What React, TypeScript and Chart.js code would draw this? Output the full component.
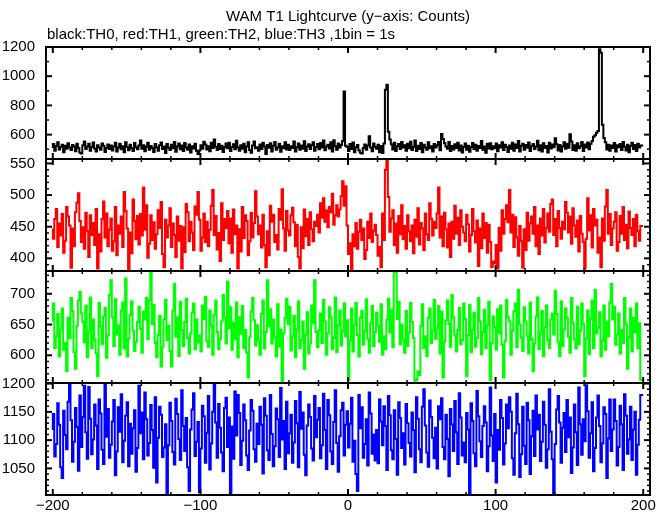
import React, { useEffect, useRef } from "react";
import { Chart, registerables } from "chart.js";

Chart.register(...registerables);

const TITLE = "WAM T1 Lightcurve (y\u2212axis: Counts)";
const SUBTITLE = "black:TH0, red:TH1, green:TH2, blue:TH3 ,1bin = 1s";

const BIN_START = -200;
const BIN_WIDTH = 1;

const X_TICKS = [-200, -100, 0, 100, 200];
const TH0_TICKS = [600, 800, 1000, 1200];
const TH1_TICKS = [400, 450, 500, 550];
const TH2_TICKS = [600, 650, 700];
const TH3_TICKS = [1050, 1100, 1150, 1200];

const TH0 = [
  508,535,489,522,547,498,516,531,480,524,503,541,512,494,529,518,486,537,509,476,
  470,527,553,501,519,538,490,515,546,505,484,528,512,497,540,523,481,509,533,502,
  526,492,518,545,484,511,537,499,521,479,548,515,493,530,507,488,542,514,500,525,
  560,503,528,486,517,544,496,522,508,481,535,513,490,527,546,502,519,474,536,510,
  495,531,507,549,483,518,539,500,526,488,543,511,497,532,477,521,505,538,489,468,
  492,527,504,551,533,498,520,486,545,509,566,517,494,536,502,524,481,513,540,506,
  545,487,516,534,499,558,511,490,528,503,537,480,519,547,495,476,525,552,507,514,
  489,532,501,544,518,467,529,510,541,485,523,550,496,512,538,483,520,506,547,498,
  530,494,521,508,552,485,513,539,497,526,504,555,488,519,534,501,527,548,490,515,
  536,499,542,511,560,493,518,531,505,547,484,562,520,497,540,512,529,556,895,524,
  517,488,535,502,546,480,514,529,493,476,470,508,533,497,525,588,511,486,539,515,
  503,531,479,522,474,540,907,941,620,566,534,498,545,487,520,536,501,549,512,527,
  490,538,506,551,495,517,559,488,524,502,543,479,530,512,496,548,507,521,485,536,
  511,528,549,493,605,570,541,519,503,550,487,522,498,534,509,545,492,526,478,515,
  539,497,524,482,516,543,501,531,489,522,508,556,496,518,475,537,505,541,499,521,
  506,540,486,527,512,548,494,530,516,481,526,503,544,490,532,509,557,484,523,538,
  497,529,510,546,487,520,535,501,518,558,493,527,485,541,508,522,478,545,505,532,
  513,575,534,492,529,485,519,548,503,537,510,602,552,495,528,489,541,506,520,550,
  487,533,511,546,500,538,556,585,596,612,625,1184,1160,668,576,548,498,530,489,525,
  508,542,484,527,513,536,495,549,517,491,531,480,522,545,501,529,488,537,512,526,
];

const TH1 = [
  447,431,462,478,418,455,436,470,409,428,481,466,452,385,447,419,473,488,503,459,
  426,449,415,472,443,402,468,437,456,421,478,384,438,411,462,490,433,471,419,445,
  463,412,427,481,405,452,439,466,418,505,475,447,383,441,408,493,459,430,467,422,
  470,436,512,445,484,401,423,468,429,457,415,438,476,448,489,407,386,461,433,452,
  479,418,455,437,402,466,428,451,384,449,410,486,473,427,458,441,413,482,469,505,
  461,412,433,471,426,458,419,445,483,508,437,467,414,440,396,487,429,462,448,475,
  424,463,409,477,438,452,384,446,411,481,432,468,459,405,427,472,433,456,506,466,
  438,452,417,469,421,386,443,405,483,458,469,426,437,414,478,461,509,447,412,475,
  444,436,468,480,457,419,453,402,384,449,416,477,435,462,421,473,446,427,458,451,
  469,441,487,464,495,458,476,449,481,473,502,453,468,484,466,477,498,522,483,514,
  452,407,424,383,438,419,456,415,442,461,429,447,399,413,458,432,471,426,444,453,
  437,404,418,386,471,429,540,557,497,442,463,476,421,455,409,467,438,484,430,451,
  415,468,443,427,452,408,461,434,479,422,456,447,413,471,438,429,487,462,436,458,
  448,471,512,433,466,419,472,446,417,455,402,458,431,483,439,464,421,476,450,441,
  427,469,454,411,437,478,443,425,460,388,447,416,471,432,456,409,453,426,386,395,
  392,421,384,448,412,476,439,462,484,457,508,441,469,418,465,433,404,451,427,385,
  446,413,472,428,455,466,439,481,419,452,407,463,436,478,425,448,471,442,486,493,
  437,462,419,475,448,431,458,446,489,472,441,466,423,479,452,434,460,411,467,439,
  426,384,431,495,444,468,417,478,452,461,409,433,386,463,428,482,508,439,470,421,
  447,458,473,412,426,467,439,481,429,453,416,474,448,437,462,419,469,443,428,451,
];

const TH2 = [
  655,684,612,631,667,598,642,676,609,620,574,661,628,693,672,605,578,648,689,703,
  668,654,621,681,597,639,694,612,658,626,603,566,685,647,618,663,677,596,632,698,
  722,662,615,691,634,649,601,673,686,611,725,598,627,665,688,640,607,622,654,679,
  643,604,671,658,693,626,690,737,651,682,620,597,633,664,582,614,659,690,625,648,
  607,582,673,716,630,662,599,687,641,615,654,692,628,603,636,669,684,610,658,621,
  632,606,681,659,695,623,614,673,648,601,666,689,638,610,627,655,698,661,619,720,
  644,678,609,653,626,686,597,662,635,680,612,641,604,564,629,671,693,657,616,649,
  624,601,667,689,611,638,722,647,675,619,658,630,598,683,614,642,556,636,661,692,
  651,679,608,630,664,597,642,688,612,625,655,578,634,670,603,619,681,652,722,638,
  613,641,668,620,690,655,601,636,678,662,610,628,694,605,649,673,616,639,684,631,
  657,560,624,676,606,649,685,633,598,661,672,617,640,691,627,604,653,680,615,638,
  669,648,622,683,601,631,610,658,692,637,674,613,737,735,659,687,618,650,626,604,
  672,615,637,685,654,628,555,560,574,568,648,683,612,631,599,661,676,620,640,690,
  627,645,680,603,671,564,623,657,689,651,614,698,662,632,606,641,677,618,625,684,
  659,566,633,682,605,641,669,614,628,693,655,602,638,674,612,649,687,560,620,663,
  646,609,675,636,681,617,564,623,690,662,655,601,640,671,684,613,706,650,629,607,
  678,655,632,603,686,627,574,619,663,694,610,637,672,599,646,681,625,612,658,668,
  634,705,667,621,599,688,615,642,676,661,630,604,693,652,626,611,679,618,640,684,
  651,566,627,673,602,660,689,612,706,636,645,670,598,624,681,609,655,631,686,716,
  658,679,617,634,668,603,641,620,693,650,578,629,676,606,661,637,684,612,652,560,
];

const TH3 = [
  1118,1146,1071,1093,1165,1127,1052,1033,1152,1109,1084,1168,1198,1135,1062,1097,1157,1123,1046,1179,
  1088,1141,1196,1114,1067,1194,1138,1075,1101,1163,1126,1049,1172,1147,1083,1058,1199,1106,1155,1069,
  1092,1133,1171,1038,1080,1158,1115,1181,1061,1099,1143,1167,1054,1129,1076,1121,1153,1044,1086,1196,
  1112,1149,1066,1184,1137,1073,1095,1162,1118,1051,1176,1025,1104,1159,1145,1070,1087,1128,1003,1091,
  1166,1134,1079,1057,1173,1146,1102,1065,1188,1125,1081,1139,1052,1010,1119,1154,1183,1072,1097,1132,
  1008,1085,1161,1142,1060,1113,1178,1048,1094,1150,1198,1131,1069,1164,1122,1078,1045,1157,1175,1088,
  1140,1003,1124,1067,1186,1108,1180,1148,1056,1099,1163,1135,1073,1047,1117,1171,1152,1084,1062,1129,
  1093,1159,1127,1041,1174,1143,1082,1065,1180,1111,1054,1089,1156,1137,1070,1192,1101,1134,1049,1168,
  1077,1112,1145,1060,1096,1169,1130,1052,1185,1120,1149,1074,1038,1126,1163,1141,1085,1064,1178,1105,
  1136,1157,1068,1091,1182,1118,1049,1171,1144,1080,1058,1132,1188,1095,1044,1107,1153,1166,1073,1127,
  1151,1087,1129,1175,1062,1099,1040,1010,1180,1121,1158,1069,1093,1137,1055,1184,1147,1076,1110,1064,
  1118,1059,1172,1133,1091,1160,1125,1047,1178,1144,1082,1066,1153,1102,1039,1167,1139,1086,1112,1057,
  1164,1130,1095,1071,1149,1118,1043,1176,1138,1084,1061,1159,1190,1126,1078,1053,1170,1141,1104,1068,
  1122,1050,1160,1137,1174,1088,1066,1145,1102,1036,1155,1128,1081,1169,1114,1058,1183,1140,1073,1096,
  1061,1148,1119,1003,1165,1134,1077,1054,1187,1142,1098,1070,1125,1160,1131,1045,1089,1193,1108,1063,
  1146,1025,1118,1083,1171,1139,1057,1094,1163,1121,1176,1150,1068,1039,1112,1182,1128,1035,1075,1159,
  1090,1058,1166,1135,1040,1107,1152,1072,1179,1119,1145,1063,1097,1168,1127,1051,1084,1190,1115,1066,
  1003,1093,1154,1178,1131,1060,1122,1148,1079,1171,1105,1140,1042,1087,1163,1114,1056,1193,1128,1074,
  1137,1098,1197,1151,1069,1112,1167,1045,1086,1140,1179,1125,1061,1094,1158,1146,1033,1103,1172,1081,
  1119,1172,1134,1055,1088,1161,1128,1047,1181,1143,1076,1101,1159,1065,1119,1150,1039,1092,1136,1180,
];

const X_MIN = -204.6;
const X_MAX = 204.6;
const X_MINOR = 20;

const PANELS = [
  { id: "y0", label: "TH0", data: TH0, color: "#000000", min: 433, max: 1200, ticks: TH0_TICKS, minor: 100, weight: 4 },
  { id: "y1", label: "TH1", data: TH1, color: "#ff0000", min: 380, max: 557, ticks: TH1_TICKS, minor: 10, weight: 3 },
  { id: "y2", label: "TH2", data: TH2, color: "#00ff00", min: 555, max: 737, ticks: TH2_TICKS, minor: 10, weight: 2 },
  { id: "y3", label: "TH3", data: TH3, color: "#0000ff", min: 1003, max: 1201, ticks: TH3_TICKS, minor: 10, weight: 1 },
];

const FONT = "'Liberation Sans', Arial, Helvetica, sans-serif";

function toSteps(values: number[]) {
  const pts = values.map((v, i) => ({ x: BIN_START + i * BIN_WIDTH, y: v }));
  // closing edge of the last bin
  pts.push({ x: BIN_START + values.length * BIN_WIDTH, y: values[values.length - 1] });
  return pts;
}

const framePlugin = {
  id: "pgframe",
  afterDatasetsDraw(chart: any) {
    const { ctx, chartArea } = chart;
    const xs = chart.scales.x;
    ctx.save();
    ctx.strokeStyle = "#000";
    ctx.lineCap = "butt";
    const line = (x1: number, y1: number, x2: number, y2: number, w: number) => {
      ctx.lineWidth = w;
      ctx.beginPath();
      ctx.moveTo(x1, y1);
      ctx.lineTo(x2, y2);
      ctx.stroke();
    };
    ctx.lineWidth = 2;
    ctx.strokeRect(chartArea.left, chartArea.top, chartArea.right - chartArea.left, chartArea.bottom - chartArea.top);
    PANELS.forEach((p) => {
      const s = chart.scales[p.id];
      line(chartArea.left, s.top, chartArea.right, s.top, 2);
      line(chartArea.left, s.bottom, chartArea.right, s.bottom, 2);
      const start = Math.ceil(p.min / p.minor) * p.minor;
      for (let v = start; v <= p.max + 1e-9; v += p.minor) {
        const major = p.ticks.includes(v);
        const len = major ? 6 : 3;
        const y = s.getPixelForValue(v);
        line(chartArea.left, y, chartArea.left + len, y, major ? 2 : 1.5);
        line(chartArea.right - len, y, chartArea.right, y, major ? 2 : 1.5);
      }
      const xs0 = Math.ceil(X_MIN / X_MINOR) * X_MINOR;
      for (let v = xs0; v <= X_MAX + 1e-9; v += X_MINOR) {
        const major = X_TICKS.includes(v);
        const len = major ? 6 : 3;
        const x = xs.getPixelForValue(v);
        line(x, s.top, x, s.top + len, major ? 2 : 1.5);
        line(x, s.bottom - len, x, s.bottom, major ? 2 : 1.5);
      }
    });
    ctx.fillStyle = "#000";
    ctx.font = `15px ${FONT}`;
    ctx.textBaseline = "middle";
    ctx.textAlign = "center";
    ctx.fillText(TITLE, (chartArea.left + chartArea.right) / 2, chartArea.top - 30);
    ctx.textAlign = "left";
    ctx.fillText(SUBTITLE, chartArea.left + 1, chartArea.top - 12);
    ctx.restore();
  },
};

export default function App() {
  const ref = useRef<HTMLCanvasElement | null>(null);
  useEffect(() => {
    if (!ref.current) return;
    const scales: any = {
      x: {
        type: "linear",
        position: "bottom",
        min: X_MIN,
        max: X_MAX,
        grid: { display: false, drawTicks: false },
        border: { display: false },
        afterFit: (s: any) => { s.height = 19; },
        afterBuildTicks: (s: any) => { s.ticks = X_TICKS.map((v) => ({ value: v })); },
        ticks: {
          autoSkip: false,
          maxRotation: 0,
          padding: 2,
          color: "#000",
          font: { family: FONT, size: 15 },
          callback: (v: any) => (Number(v) < 0 ? "\u2212" + Math.abs(Number(v)) : String(v)),
        },
      },
    };
    PANELS.forEach((p) => {
      scales[p.id] = {
        type: "linear",
        position: "left",
        stack: "panels",
        stackWeight: 1,
        weight: p.weight,
        min: p.min,
        max: p.max,
        grid: { display: false, drawTicks: false },
        border: { display: false },
        afterFit: (s: any) => { s.width = 46; },
        afterBuildTicks: (s: any) => { s.ticks = p.ticks.map((v) => ({ value: v })); },
        ticks: {
          autoSkip: false,
          padding: 11,
          color: "#000",
          font: { family: FONT, size: 15 },
          callback: (v: any) => String(v),
        },
      };
    });
    const chart = new Chart(ref.current, {
      type: "line",
      data: {
        datasets: PANELS.map((p) => ({
          label: p.label,
          data: toSteps(p.data),
          yAxisID: p.id,
          xAxisID: "x",
          borderColor: p.color,
          borderWidth: 2,
          pointRadius: 0,
          stepped: "after" as const,
          fill: false,
          tension: 0,
        })),
      },
      options: {
        animation: false,
        responsive: false,
        maintainAspectRatio: false,
        devicePixelRatio: 1,
        layout: { padding: { left: 0, right: 19, top: 47, bottom: 0 } },
        plugins: { legend: { display: false }, title: { display: false }, tooltip: { enabled: false } },
        events: [],
        scales,
      },
      plugins: [framePlugin],
    });
    return () => chart.destroy();
  }, []);
  return (
    <div style={{ position: "fixed", left: 0, top: 0, width: 669, height: 515, background: "#fff" }}>
      <canvas ref={ref} width={669} height={515} style={{ width: 669, height: 515 }} />
    </div>
  );
}
